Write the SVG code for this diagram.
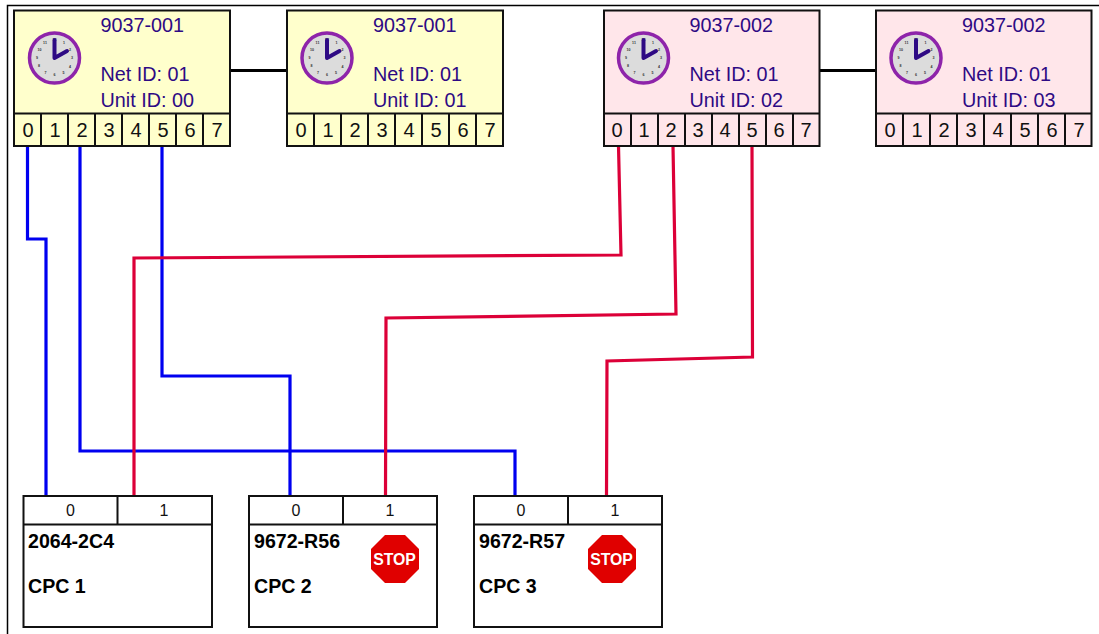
<svg xmlns="http://www.w3.org/2000/svg" width="1099" height="634" viewBox="0 0 1099 634">
<style>
text{font-family:"Liberation Sans",Arial,sans-serif}
.box{stroke:#111;stroke-width:2}
.y{fill:#ffffcc}.p{fill:#ffe6ea}.w{fill:#fff}
.div{stroke:#111;stroke-width:2;fill:none}
.h{font-size:19.8px;fill:#2e0a84}
.n{font-size:20px;fill:#111;text-anchor:middle}
.c{font-size:16px;fill:#111;text-anchor:middle}
.b{font-size:19.6px;font-weight:700;fill:#000}
.s{font-size:15.8px;font-weight:700;fill:#fff;text-anchor:middle}
.t{font-size:3.6px;fill:#333;text-anchor:middle;font-weight:700}
.blue{fill:none;stroke:#0000f0;stroke-width:3.200}
.red{fill:none;stroke:#dc0038;stroke-width:3.200}
.link{fill:none;stroke:#000;stroke-width:3.200}
</style>
<defs>
<g id="clock">
<circle r="25" fill="#dcdcdc" stroke="#8e24aa" stroke-width="3.500"/>
<g class="t"><text y="-17">12</text><text x="9.5" y="-14.5">1</text><text x="15.5" y="-7.5">2</text><text x="17.5" y="1">3</text><text x="15.5" y="9.5">4</text><text x="9" y="15.5">5</text><text y="18">6</text><text x="-9" y="15.5">7</text><text x="-15.5" y="9">8</text><text x="-17.5" y="1.2">9</text><text x="-15" y="-7.5">10</text><text x="-9.5" y="-14.5">11</text></g>
<path d="M0 0V-18M0 0L12.500 -7" fill="none" stroke="#2e0a84" stroke-width="4" stroke-linecap="round"/>
</g>
<g id="ports" class="div">
<path d="M27 0V33M54 0V33M81 0V33M108 0V33M135 0V33M162 0V33M189 0V33"/>
</g>
<polygon id="stop" points="-10,-24 10,-24 24,-10 24,10 10,24 -10,24 -24,10 -24,-10" fill="#e00000"/>
</defs>
<path d="M7.500 634V5.500H1099" fill="none" stroke="#000" stroke-width="1.500"/>
<g id="connectors">
<path class="link" d="M230 70.500H287"/>
<path class="link" d="M819.500 70.500H876"/>
<path class="blue" d="M27.500 146V239H46V496"/>
<path class="blue" d="M80 146V451H515V496"/>
<path class="blue" d="M162 146V376H290V496"/>
<path class="red" d="M618.500 146L621 255L134 258V496"/>
<path class="red" d="M673 146L676 314L386 318L385.500 496"/>
<path class="red" d="M752 146L752.500 357L607 361L606.500 496"/>
</g>
<g id="unit-00">
<rect class="box y" x="14" y="10.500" width="216" height="135.500"/><path class="div" d="M14 113.500H230"/><use href="#ports" x="14" y="113.500"/><use href="#clock" x="54.500" y="58"/>
<text class="h" x="100.500" y="32">9037-001</text><text class="h" x="100.500" y="81">Net ID: 01</text><text class="h" x="100.500" y="106.500">Unit ID: 00</text>
<g class="n"><text x="28" y="136.500">0</text><text x="55" y="136.500">1</text><text x="82" y="136.500">2</text><text x="109" y="136.500">3</text><text x="136" y="136.500">4</text><text x="163" y="136.500">5</text><text x="190" y="136.500">6</text><text x="217" y="136.500">7</text></g>
</g>
<g id="unit-01">
<rect class="box y" x="287" y="10.500" width="216" height="135.500"/><path class="div" d="M287 113.500H503"/><use href="#ports" x="287" y="113.500"/><use href="#clock" x="327" y="58"/>
<text class="h" x="373" y="32">9037-001</text><text class="h" x="373" y="81">Net ID: 01</text><text class="h" x="373" y="106.500">Unit ID: 01</text>
<g class="n"><text x="301" y="136.500">0</text><text x="328" y="136.500">1</text><text x="355" y="136.500">2</text><text x="382" y="136.500">3</text><text x="409" y="136.500">4</text><text x="436" y="136.500">5</text><text x="463" y="136.500">6</text><text x="490" y="136.500">7</text></g>
</g>
<g id="unit-02">
<rect class="box p" x="604" y="10.500" width="215.500" height="135.500"/><path class="div" d="M604 113.500H819.500"/><use href="#ports" x="604" y="113.500"/><use href="#clock" x="643.500" y="58"/>
<text class="h" x="689.500" y="32">9037-002</text><text class="h" x="689.500" y="81">Net ID: 01</text><text class="h" x="689.500" y="106.500">Unit ID: 02</text>
<g class="n"><text x="617" y="136.500">0</text><text x="644" y="136.500">1</text><text x="671" y="136.500">2</text><text x="698" y="136.500">3</text><text x="725" y="136.500">4</text><text x="752" y="136.500">5</text><text x="779" y="136.500">6</text><text x="806" y="136.500">7</text></g>
</g>
<g id="unit-03">
<rect class="box p" x="876" y="10.500" width="215.500" height="135.500"/><path class="div" d="M876 113.500H1091.500"/><use href="#ports" x="876" y="113.500"/><use href="#clock" x="916" y="58"/>
<text class="h" x="962" y="32">9037-002</text><text class="h" x="962" y="81">Net ID: 01</text><text class="h" x="962" y="106.500">Unit ID: 03</text>
<g class="n"><text x="890" y="136.500">0</text><text x="917" y="136.500">1</text><text x="944" y="136.500">2</text><text x="971" y="136.500">3</text><text x="998" y="136.500">4</text><text x="1025" y="136.500">5</text><text x="1052" y="136.500">6</text><text x="1079" y="136.500">7</text></g>
</g>
<g id="cpc-1">
<rect class="box w" x="23.500" y="496" width="188.500" height="131"/><path class="div" d="M23.500 524.500H212M117.500 496V524.500"/>
<text class="c" x="70.500" y="516">0</text><text class="c" x="164" y="516">1</text>
<text class="b" x="28" y="548">2064-2C4</text><text class="b" x="28" y="593">CPC 1</text>
</g>
<g id="cpc-2">
<rect class="box w" x="249" y="496" width="188" height="131"/><path class="div" d="M249 524.500H437M343 496V524.500"/>
<text class="c" x="296" y="516">0</text><text class="c" x="390" y="516">1</text>
<text class="b" x="254" y="548">9672-R56</text><text class="b" x="254" y="593">CPC 2</text>
<use href="#stop" x="395" y="559"/><text class="s" x="394.500" y="565">STOP</text>
</g>
<g id="cpc-3">
<rect class="box w" x="474" y="496" width="188" height="131"/><path class="div" d="M474 524.500H662M568 496V524.500"/>
<text class="c" x="521" y="516">0</text><text class="c" x="615" y="516">1</text>
<text class="b" x="479" y="548">9672-R57</text><text class="b" x="479" y="593">CPC 3</text>
<use href="#stop" x="612" y="559"/><text class="s" x="611.500" y="565">STOP</text>
</g>
</svg>
